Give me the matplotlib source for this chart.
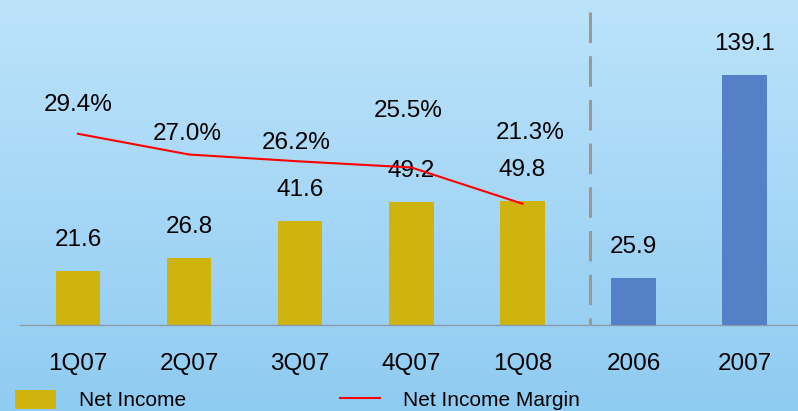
import numpy as np
import matplotlib.pyplot as plt
from matplotlib.colors import LinearSegmentedColormap
from matplotlib.patches import Patch
from matplotlib.lines import Line2D
import matplotlib.transforms as mtransforms

quarters = ['1Q07', '2Q07', '3Q07', '4Q07', '1Q08']
years = ['2006', '2007']
net_income_q = [21.6, 26.8, 41.6, 49.2, 49.8]
net_income_y = [25.9, 139.1]
margin_q = [29.4, 27.0, 26.2, 25.5, 21.3]

GOLD = '#cfb40f'
BLUE = '#557fc6'
RED = '#ff0000'
plt.rcParams['font.family'] = ['Liberation Sans', 'DejaVu Sans']

fig = plt.figure(figsize=(7.98, 4.11), dpi=100)

# soft blue backdrop
bg = fig.add_axes([0, 0, 1, 1])
grad = np.linspace(0, 1, 256).reshape(-1, 1)
cmap = LinearSegmentedColormap.from_list('sky', ['#bce3fa', '#a6d7f6', '#8fccf1'])
bg.imshow(grad, aspect='auto', cmap=cmap, extent=[0, 1, 0, 1])
bg.axis('off')

ax = fig.add_axes([20 / 798, 86 / 411, 778 / 798, 325 / 411])
ax.patch.set_alpha(0)
x_q = np.arange(len(quarters))
x_y = np.arange(len(quarters), len(quarters) + len(years))
labels = quarters + years

bars_q = ax.bar(x_q, net_income_q, width=0.4, color=GOLD)
ax.set_ylim(0, 130)
ax.set_xlim(-0.522, 6.48)

# annual figures on their own scale
ax2 = ax.twinx()
bars_y = ax2.bar(x_y, net_income_y, width=0.4, color=BLUE)
ax2.set_ylim(0, 181)

ax3 = ax.twinx()
ax3.plot(x_q, margin_q, color=RED, lw=1.5)
ax3.set_ylim(7.25, 44.9)

for a in (ax, ax2, ax3):
    for s in a.spines.values():
        s.set_visible(False)
    a.set_yticks([])
ax.spines['bottom'].set_visible(True)
ax.spines['bottom'].set_color('#8a9aa8')
ax.spines['bottom'].set_linewidth(1)

ax.set_xticks(np.arange(len(labels)))
ax.set_xticklabels(labels, fontsize=17.5)
ax.tick_params(axis='x', length=0, pad=20)

for a, bars, vals in ((ax, bars_q, net_income_q), (ax2, bars_y, net_income_y)):
    for b, v in zip(bars, vals):
        a.annotate(f'{v:.1f}', (b.get_x() + b.get_width() / 2, v),
                   xytext=(0, 31), textcoords='offset pixels',
                   ha='center', va='center', fontsize=17.5)

pct_dx = [0, -2, -4, -3, 8]
pct_dy = [29, 21, 18, 56, 71]
for xi, v, dx, dy in zip(x_q, margin_q, pct_dx, pct_dy):
    ax3.annotate(f'{v:.1f}%', (xi, v), xytext=(dx, dy), textcoords='offset pixels',
                 ha='center', va='center', fontsize=17.5)

# divider between quarterly and annual
trans = mtransforms.blended_transform_factory(ax.transData, ax.transAxes)
ax3.plot([4.61, 4.61], [0.963, 0.0], transform=trans, color='#999999', lw=2.2,
         linestyle=(0, (10, 4.3)), solid_capstyle='butt', dash_capstyle='butt',
         clip_on=False)

handles = [Patch(facecolor=GOLD, edgecolor='none'), Line2D([], [], color=RED, lw=1.5)]
fig.legend(handles, ['Net Income', 'Net Income Margin'], loc='upper left',
           bbox_to_anchor=(15 / 798, 1 - 390 / 411), ncol=2, frameon=False,
           prop={'size': 15}, handlelength=1.95, handleheight=1.0,
           handletextpad=1.1, columnspacing=7.4, borderpad=0, borderaxespad=0)

fig.savefig('out.png', dpi=100)
